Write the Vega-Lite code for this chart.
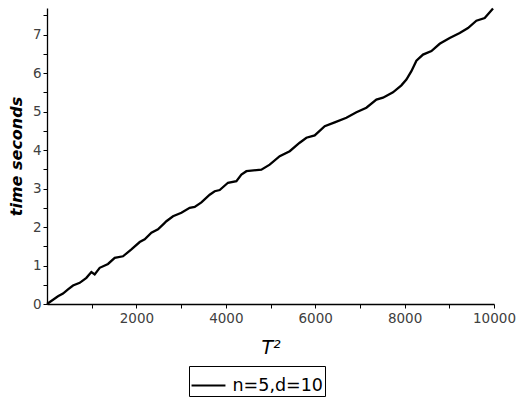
{
  "$schema": "https://vega.github.io/schema/vega-lite/v6.json",
  "autosize": "none",
  "width": 447,
  "height": 296,
  "padding": {"left": 47, "top": 8, "right": 30, "bottom": 96},
  "background": "white",
  "config": {"view": {"stroke": null}, "font": "DejaVu Sans"},
  "data": {"values": [
    {"x": 0, "y": 0, "s": "n=5,d=10"},
    {"x": 246, "y": 0.20, "s": "n=5,d=10"},
    {"x": 358, "y": 0.27, "s": "n=5,d=10"},
    {"x": 470, "y": 0.38, "s": "n=5,d=10"},
    {"x": 582, "y": 0.48, "s": "n=5,d=10"},
    {"x": 732, "y": 0.55, "s": "n=5,d=10"},
    {"x": 881, "y": 0.68, "s": "n=5,d=10"},
    {"x": 993, "y": 0.83, "s": "n=5,d=10"},
    {"x": 1067, "y": 0.77, "s": "n=5,d=10"},
    {"x": 1179, "y": 0.94, "s": "n=5,d=10"},
    {"x": 1365, "y": 1.04, "s": "n=5,d=10"},
    {"x": 1515, "y": 1.20, "s": "n=5,d=10"},
    {"x": 1700, "y": 1.24, "s": "n=5,d=10"},
    {"x": 1888, "y": 1.42, "s": "n=5,d=10"},
    {"x": 2074, "y": 1.61, "s": "n=5,d=10"},
    {"x": 2186, "y": 1.68, "s": "n=5,d=10"},
    {"x": 2336, "y": 1.85, "s": "n=5,d=10"},
    {"x": 2483, "y": 1.94, "s": "n=5,d=10"},
    {"x": 2617, "y": 2.09, "s": "n=5,d=10"},
    {"x": 2671, "y": 2.15, "s": "n=5,d=10"},
    {"x": 2819, "y": 2.28, "s": "n=5,d=10"},
    {"x": 3007, "y": 2.37, "s": "n=5,d=10"},
    {"x": 3192, "y": 2.50, "s": "n=5,d=10"},
    {"x": 3304, "y": 2.52, "s": "n=5,d=10"},
    {"x": 3454, "y": 2.64, "s": "n=5,d=10"},
    {"x": 3640, "y": 2.84, "s": "n=5,d=10"},
    {"x": 3752, "y": 2.93, "s": "n=5,d=10"},
    {"x": 3864, "y": 2.96, "s": "n=5,d=10"},
    {"x": 4049, "y": 3.15, "s": "n=5,d=10"},
    {"x": 4237, "y": 3.19, "s": "n=5,d=10"},
    {"x": 4349, "y": 3.36, "s": "n=5,d=10"},
    {"x": 4461, "y": 3.45, "s": "n=5,d=10"},
    {"x": 4685, "y": 3.48, "s": "n=5,d=10"},
    {"x": 4796, "y": 3.49, "s": "n=5,d=10"},
    {"x": 4982, "y": 3.62, "s": "n=5,d=10"},
    {"x": 5206, "y": 3.84, "s": "n=5,d=10"},
    {"x": 5430, "y": 3.97, "s": "n=5,d=10"},
    {"x": 5653, "y": 4.19, "s": "n=5,d=10"},
    {"x": 5803, "y": 4.32, "s": "n=5,d=10"},
    {"x": 5989, "y": 4.38, "s": "n=5,d=10"},
    {"x": 6213, "y": 4.62, "s": "n=5,d=10"},
    {"x": 6436, "y": 4.72, "s": "n=5,d=10"},
    {"x": 6698, "y": 4.84, "s": "n=5,d=10"},
    {"x": 6922, "y": 4.98, "s": "n=5,d=10"},
    {"x": 7145, "y": 5.10, "s": "n=5,d=10"},
    {"x": 7369, "y": 5.31, "s": "n=5,d=10"},
    {"x": 7517, "y": 5.36, "s": "n=5,d=10"},
    {"x": 7740, "y": 5.50, "s": "n=5,d=10"},
    {"x": 7928, "y": 5.68, "s": "n=5,d=10"},
    {"x": 8040, "y": 5.83, "s": "n=5,d=10"},
    {"x": 8152, "y": 6.05, "s": "n=5,d=10"},
    {"x": 8264, "y": 6.32, "s": "n=5,d=10"},
    {"x": 8412, "y": 6.48, "s": "n=5,d=10"},
    {"x": 8600, "y": 6.57, "s": "n=5,d=10"},
    {"x": 8785, "y": 6.76, "s": "n=5,d=10"},
    {"x": 9009, "y": 6.91, "s": "n=5,d=10"},
    {"x": 9233, "y": 7.04, "s": "n=5,d=10"},
    {"x": 9418, "y": 7.17, "s": "n=5,d=10"},
    {"x": 9606, "y": 7.36, "s": "n=5,d=10"},
    {"x": 9792, "y": 7.43, "s": "n=5,d=10"},
    {"x": 9978, "y": 7.68, "s": "n=5,d=10"}
  ]},
  "mark": {"type": "line", "strokeWidth": 2.3, "interpolate": "linear"},
  "encoding": {
    "x": {
      "field": "x", "type": "quantitative",
      "scale": {"domain": [0, 10000], "nice": false, "zero": false},
      "axis": {
        "title": "T²", "titleFont": "DejaVu Sans", "titleFontStyle": "italic", "titleFontWeight": "normal",
        "titleFontSize": 19, "titleColor": "black", "titlePadding": 14,
        "values": [1000, 2000, 3000, 4000, 5000, 6000, 7000, 8000, 9000, 10000],
        "labelExpr": "(floor(datum.value / 2000) * 2000 == datum.value) ? format(datum.value, 'd') : ''",
        "labelFontSize": 13.5, "labelColor": "#404040", "labelPadding": 3, "labelFlush": false,
        "domainColor": "black", "domainWidth": 1.3,
        "tickColor": "black",
        "tickSize": 4,
        "grid": false
      }
    },
    "y": {
      "field": "y", "type": "quantitative",
      "scale": {"domain": [0, 7.69], "nice": false},
      "axis": {
        "title": "time seconds", "titleFont": "DejaVu Sans", "titleFontStyle": "italic", "titleFontWeight": "bold",
        "titleFontSize": 16, "titleColor": "black", "titlePadding": 8,
        "values": [0, 0.5, 1, 1.5, 2, 2.5, 3, 3.5, 4, 4.5, 5, 5.5, 6, 6.5, 7, 7.5],
        "labelExpr": "(floor(datum.value) == datum.value) ? format(datum.value, 'd') : ''",
        "labelFontSize": 13.5, "labelColor": "#404040", "labelPadding": 2, "labelFlush": false,
        "domainColor": "black", "domainWidth": 1.3,
        "tickColor": "black",
        "tickSize": 4,
        "grid": false
      }
    },
    "color": {
      "field": "s", "type": "nominal",
      "scale": {"range": ["black"]},
      "legend": {
        "title": null, "orient": "none", "legendX": 142, "legendY": 358,
        "strokeColor": "black", "padding": 1.5, "cornerRadius": 0,
        "symbolType": "stroke", "symbolSize": 1150, "symbolStrokeWidth": 2,
        "labelFontSize": 17.5, "labelColor": "black", "labelFont": "DejaVu Sans", "labelOffset": 6
      }
    }
  }
}
